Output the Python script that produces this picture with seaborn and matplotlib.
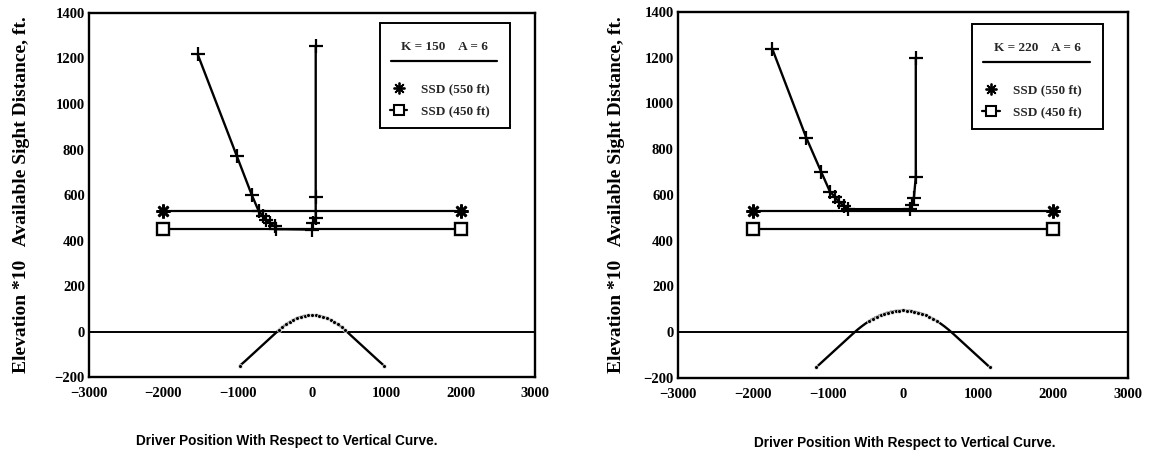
import matplotlib
matplotlib.use("Agg")
import matplotlib.pyplot as plt
from matplotlib.lines import Line2D
from matplotlib.font_manager import FontProperties
import seaborn as sns

# Road profile (elevation * 10) along the crest vertical curve, K = 150, A = 6
k150_prof_x = [-970, -900, -800, -700, -600, -500, -450, -400, -350, -300, -250, -200,
               -150, -100, -50, 0, 50, 100, 150, 200, 250, 300, 350, 400, 450, 500,
               600, 700, 800, 900, 970]
k150_prof_y = [-150, -130, -100, -70, -40, -10, 5, 19, 31, 42, 51, 59,
               64, 69, 71, 72, 71, 69, 64, 59, 51, 42, 31, 19, 5, -10,
               -40, -70, -100, -130, -150]

# Available sight distance vs. driver position, K = 150
k150_asd_x = [-1540, -1010, -810, -715, -660, -625, -570, -500, -480, 0, 15, 50, 50, 50]
k150_asd_y = [1220, 770, 600, 528, 508, 490, 476, 462, 450, 448, 475, 497, 590, 1255]

# Road profile, K = 220, A = 6
k220_prof_x = [-1160, -1100, -1000, -900, -800, -700, -660, -600, -550, -500, -450, -400,
               -350, -300, -250, -200, -150, -100, -50, 0, 50, 100, 150, 200, 250, 300,
               350, 400, 450, 500, 550, 600, 660, 700, 800, 900, 1000, 1100, 1160]
k220_prof_y = [-154, -136, -106, -76, -46, -16, -4, 13, 26, 38, 49, 59,
               67, 75, 81, 86, 90, 93, 94, 95, 94, 93, 90, 86, 81, 75,
               67, 59, 49, 38, 26, 13, -4, -16, -46, -76, -106, -136, -154]

# Available sight distance vs. driver position, K = 220
k220_asd_x = [-1745, -1290, -1090, -975, -910, -855, -790, -735, 90, 118, 145, 170, 170]
k220_asd_y = [1240, 850, 700, 615, 592, 570, 553, 538, 538, 557, 588, 680, 1200]

# Stopping sight distance reference lines
ssd_x = [-2000, 2000]
k150_ssd550 = [530, 530]
k150_ssd450 = [452, 452]
k220_ssd550 = [528, 528]
k220_ssd450 = [452, 452]

panel_titles = ["K = 150    A = 6", "K = 220    A = 6"]
ssd_labels = ["SSD (550 ft)", "SSD (450 ft)"]
x_ticks = [-3000, -2000, -1000, 0, 1000, 2000, 3000]
y_ticks = [-200, 0, 200, 400, 600, 800, 1000, 1200, 1400]
y_label = "Elevation *10   Available Sight Distance, ft."
x_label = "Driver Position With Respect to Vertical Curve."

sns.set_theme(style="white")
plt.rcParams["font.family"] = ["Liberation Serif", "DejaVu Serif"]
plt.rcParams["axes.unicode_minus"] = True

ASTERISK = (8, 2, 0)
tick_font = FontProperties(family="Liberation Serif", weight="bold", size=10.5)
legend_font = FontProperties(family="Liberation Serif", weight="bold", size=9.5)
ylabel_font = FontProperties(family="Liberation Serif", weight="bold", size=14)
xlabel_font = FontProperties(family="Liberation Sans", weight="bold", size=9.8)

fig = plt.figure(figsize=(11.5, 4.59), dpi=100)
ax_l = fig.add_axes([0.0774, 0.1786, 0.3878, 0.7931])
ax_r = fig.add_axes([0.5896, 0.1765, 0.3913, 0.7975])


def draw_panel(ax, prof_x, prof_y, asd_x, asd_y, ssd550, ssd450, title,
               ylab_x, xlab_x, xlab_y, legend_box):
    # ground reference line
    ax.axhline(0, color="black", lw=1.4, zorder=2)

    # crest curve profile, dots along the parabolic part and at the ends
    marked = [i for i, v in enumerate(prof_x) if abs(v) <= 460 or i in (0, len(prof_x) - 1)]
    sns.lineplot(x=prof_x, y=prof_y, ax=ax, color="black", lw=1.7, sort=False,
                 estimator=None, marker="o", markersize=2.8, markevery=marked,
                 markeredgewidth=0.5, legend=False)

    # stopping sight distance lines
    sns.lineplot(x=ssd_x, y=ssd550, ax=ax, color="black", lw=1.6, sort=False,
                 estimator=None, marker=ASTERISK, markersize=10, markeredgewidth=1.9,
                 markeredgecolor="black", legend=False)
    sns.lineplot(x=ssd_x, y=ssd450, ax=ax, color="black", lw=1.6, sort=False,
                 estimator=None, marker="s", markersize=8, markerfacecolor="white",
                 markeredgecolor="black", markeredgewidth=1.7, legend=False)

    # available sight distance
    sns.lineplot(x=asd_x, y=asd_y, ax=ax, color="black", lw=1.7, sort=False,
                 estimator=None, marker="+", markersize=10, markeredgewidth=1.6,
                 markeredgecolor="black", legend=False)

    ax.set_xlim(-3000, 3000)
    ax.set_ylim(-200, 1400)
    ax.set_xticks(x_ticks)
    ax.set_yticks(y_ticks)
    for lab in ax.get_xticklabels() + ax.get_yticklabels():
        lab.set_fontproperties(tick_font)
    ax.tick_params(axis="both", direction="in", length=4, width=1.3, colors="black")
    ax.tick_params(axis="x", pad=7)
    ax.tick_params(axis="y", pad=3)
    for sp in ax.spines.values():
        sp.set_visible(True)
        sp.set_color("black")
        sp.set_linewidth(1.7)

    ax.set_ylabel(y_label, fontproperties=ylabel_font, color="black")
    ax.yaxis.set_label_coords(ylab_x, 0.5)
    ax.set_xlabel(x_label, fontproperties=xlabel_font, color="black")
    ax.xaxis.set_label_coords(xlab_x, xlab_y)

    handles = [
        Line2D([], [], linestyle="none", marker=ASTERISK, markersize=8.5,
               markeredgecolor="black", markeredgewidth=1.3, color="black"),
        Line2D([], [], color="black", lw=1.6, marker="s", markersize=7,
               markerfacecolor="white", markeredgecolor="black", markeredgewidth=1.5),
    ]
    leg = ax.legend(handles=handles, labels=ssd_labels, title=title + "\n\n",
                    loc="upper left", bbox_to_anchor=legend_box, mode="expand",
                    borderaxespad=0, frameon=True, fancybox=False, shadow=False,
                    edgecolor="black", framealpha=1, prop=legend_font,
                    title_fontproperties=legend_font, handlelength=1.3,
                    handletextpad=1.05, labelspacing=0.75, borderpad=0.8)
    leg.get_frame().set_linewidth(1.4)
    leg.get_title().set_position((0, -7))
    return leg


leg_l = draw_panel(ax_l, k150_prof_x, k150_prof_y, k150_asd_x, k150_asd_y,
                   k150_ssd550, k150_ssd450, panel_titles[0],
                   ylab_x=-0.132, xlab_x=0.444, xlab_y=-0.157,
                   legend_box=(0.652, 0.672, 0.291, 0.30))
leg_r = draw_panel(ax_r, k220_prof_x, k220_prof_y, k220_asd_x, k220_asd_y,
                   k220_ssd550, k220_ssd450, panel_titles[1],
                   ylab_x=-0.118, xlab_x=0.504, xlab_y=-0.158,
                   legend_box=(0.653, 0.667, 0.291, 0.30))

# rule under each legend heading, placed from the rendered legend geometry
fig.canvas.draw()
renderer = fig.canvas.get_renderer()
for ax, leg in ((ax_l, leg_l), (ax_r, leg_r)):
    frame = leg.get_frame().get_window_extent(renderer)
    tb = leg.get_title().get_window_extent(renderer)
    y_line = tb.y1 - 20
    inv = ax.transAxes.inverted()
    (x0, y0) = inv.transform((frame.x0 + 11, y_line))
    (x1, _) = inv.transform((frame.x1 - 13, y_line))
    ax.plot([x0, x1], [y0, y0], transform=ax.transAxes, color="black", lw=1.6,
            clip_on=False, zorder=6)

fig.savefig("out.png", dpi=100)
